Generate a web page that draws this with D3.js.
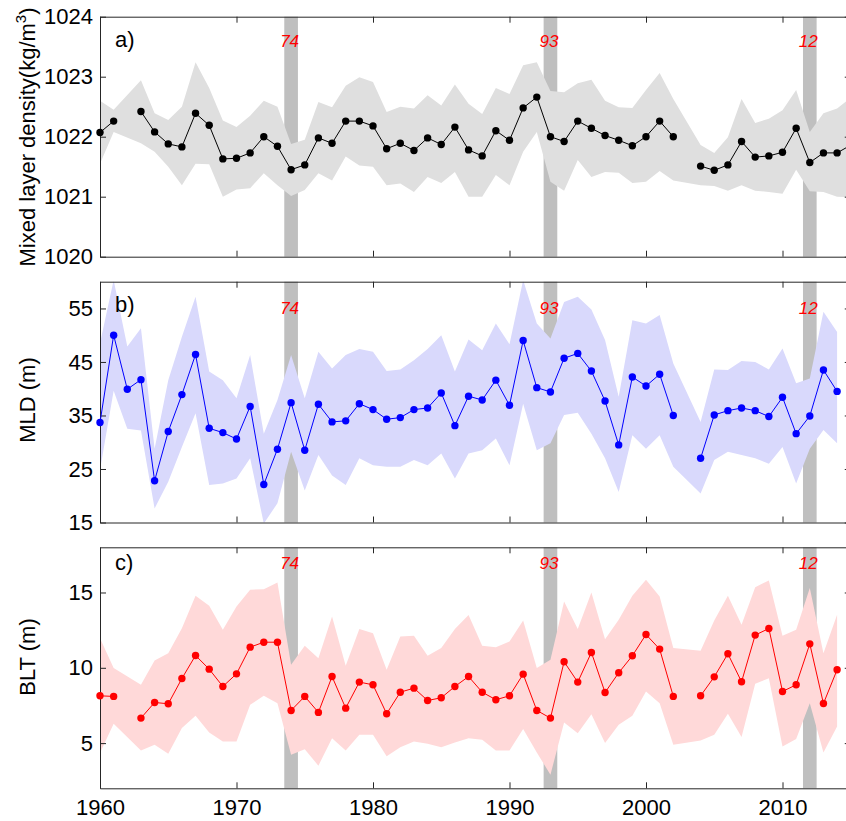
<!DOCTYPE html>
<html><head><meta charset="utf-8">
<script src="https://cdn.jsdelivr.net/npm/d3@7"></script>
<style>
body{margin:0;background:#fff}
svg{display:block}
text{font-family:"Liberation Sans",Arial,Helvetica,sans-serif}
</style>
</head><body><svg id="c" width="846" height="821"></svg>
<script>
// ---------- DATA (years 1960..2015, null = no data) ----------
const years = d3.range(1960, 2016);

const densityMean = [1022.07,1022.26,null,1022.42,1022.08,1021.88,1021.83,1022.39,1022.19,1021.63,
  1021.64,1021.73,1022.00,1021.84,1021.45,1021.53,1021.98,1021.89,1022.26,1022.26,
  1022.18,1021.80,1021.89,1021.77,1021.98,1021.87,1022.16,1021.78,1021.68,1022.10,
  1021.94,1022.48,1022.66,1022.00,1021.92,1022.26,1022.14,1022.02,1021.94,1021.85,
  1022.00,1022.26,1022.00,null,1021.51,1021.44,1021.53,1021.92,1021.66,1021.68,
  1021.74,1022.14,1021.57,1021.73,1021.73,1021.86];
const densityUpper = [1022.60,1022.45,null,1022.94,1022.39,1022.28,1022.50,1023.24,1022.81,1022.27,
  1022.16,1022.35,1022.60,1022.50,1021.88,1021.95,1022.58,1022.49,1022.85,1022.99,
  1022.91,1022.41,1022.50,1022.47,1022.69,1022.52,1022.87,1022.55,1022.38,1022.81,
  1022.71,1023.19,1023.24,1022.76,1022.74,1022.89,1022.95,1022.60,1022.49,1022.48,
  1022.78,1023.06,1022.63,null,1021.86,1021.73,1021.99,1022.63,1022.23,1022.30,
  1022.44,1022.78,1022.08,1022.39,1022.47,1022.65];
const densityLower = [1021.55,1022.08,null,1021.89,1021.75,1021.50,1021.19,1021.55,1021.54,1021.00,
  1021.12,1021.14,1021.39,1021.19,1021.01,1021.11,1021.39,1021.27,1021.67,1021.52,
  1021.50,1021.19,1021.22,1021.08,1021.33,1021.23,1021.41,1021.00,1021.00,1021.36,
  1021.19,1021.75,1022.08,1021.25,1021.10,1021.61,1021.33,1021.41,1021.40,1021.23,
  1021.25,1021.43,1021.27,null,1021.19,1021.18,1021.10,1021.19,1021.10,1021.08,
  1021.05,1021.45,1021.09,1021.08,1021.00,1020.99];

const mldMean = [33.7,50.0,39.9,41.7,22.8,32.0,38.9,46.4,32.6,31.8,
  30.6,36.7,22.1,28.7,37.4,28.5,37.1,33.8,34.0,37.2,
  36.1,34.3,34.6,36.1,36.4,39.2,33.1,38.6,37.9,41.6,
  36.9,49.0,40.2,39.4,45.7,46.6,43.3,37.7,29.5,42.2,
  40.5,42.7,35.0,null,27.0,35.1,35.9,36.4,35.9,34.8,
  38.4,31.6,34.9,43.5,39.5,null];
const mldUpper = [48.5,60.3,47.9,51.3,28.8,41.6,49.7,57.2,43.2,41.6,
  38.2,46.3,31.6,37.9,46.3,38.2,46.9,43.8,46.3,47.4,
  46.9,43.3,43.6,45.3,47.4,50.0,43.2,49.2,47.2,52.2,
  48.3,60.3,52.2,49.4,56.2,57.2,54.8,49.1,38.5,52.8,
  52.2,53.8,44.7,null,33.8,43.6,43.5,45.2,45.0,43.6,
  47.5,41.0,41.9,54.4,50.6,null];
const mldLower = [24.8,39.6,32.5,32.2,17.6,22.6,29.1,35.4,22.0,22.3,
  23.2,27.0,14.8,18.6,28.2,21.0,27.6,23.8,22.0,27.0,
  25.7,25.4,25.4,26.7,25.7,27.9,23.2,27.9,28.5,30.7,
  25.7,37.2,28.5,29.8,35.1,35.5,31.6,27.0,20.7,31.3,
  28.8,31.3,25.4,null,20.4,26.7,28.2,27.6,27.0,26.0,
  29.1,22.3,28.8,32.3,29.8,null];

const bltMean = [8.14,8.10,null,6.66,7.70,7.61,9.29,10.82,9.91,8.76,
  9.60,11.37,11.70,11.70,7.17,8.10,7.04,9.42,7.32,9.05,
  8.87,6.95,8.38,8.65,7.83,8.01,8.76,9.42,8.38,7.88,
  8.14,9.58,7.17,6.66,10.40,9.05,11.02,8.36,9.67,10.80,
  12.21,11.24,8.10,null,8.14,9.40,10.93,9.07,12.17,12.61,
  8.43,8.87,11.59,7.63,9.87,null];
const bltUpper = [11.97,9.98,null,8.87,10.49,10.97,12.63,14.78,14.12,12.52,
  14.07,15.18,15.22,15.66,10.20,11.46,10.64,13.40,10.13,12.57,
  12.30,9.87,12.08,12.12,10.80,11.31,12.57,13.50,11.46,11.37,
  11.75,13.14,9.98,10.53,14.40,12.57,15.00,11.90,13.19,14.78,
  15.84,14.73,11.31,null,11.13,13.14,14.78,12.85,15.35,15.80,
  12.12,12.52,15.29,10.97,13.52,null];
const bltLower = [4.34,6.28,null,4.51,4.89,4.29,6.00,6.81,5.71,5.11,
  5.11,7.54,8.14,7.65,4.23,4.60,3.50,5.33,4.51,5.55,
  5.55,4.12,4.73,5.11,4.96,4.73,5.04,5.33,5.22,4.51,
  4.51,5.93,4.38,2.90,6.37,5.66,6.92,5.00,6.22,6.81,
  8.43,7.65,4.89,null,5.18,5.55,6.95,5.40,8.94,9.31,
  4.78,5.27,7.65,4.38,6.11,null];

const xTicks = [1960,1970,1980,1990,2000,2010];
const eventYears = [1974,1993,2012];
const eventLabels = ["74","93","12"];
const densityTicks = [1020,1021,1022,1023,1024];
const mldTicks = [15,25,35,45,55];
const bltTicks = [5,10,15];

// ---------- DRAWING ----------
const svg = d3.select("#c");
const X0 = 100, X1 = 850.75;
const x = d3.scaleLinear().domain([1960,2015]).range([X0,X1]);
const axisColor = "#262626";

const panels = [
  {label:"a)", mean:densityMean, upper:densityUpper, lower:densityLower, domain:[1020,1024], ticks:densityTicks,
   top:16.7, bottom:256.7, band:"#dfdfdf", color:"#000000", title:"density", titleY:137, labelY:47, evY:46.5, xLabels:false},
  {label:"b)", mean:mldMean, upper:mldUpper, lower:mldLower, domain:[15,60], ticks:mldTicks,
   top:281.7, bottom:522.5, band:"#d9d9fc", color:"#0000ff", title:"MLD (m)", titleY:400, labelY:312, evY:314, xLabels:false},
  {label:"c)", mean:bltMean, upper:bltUpper, lower:bltLower, domain:[2,18], ticks:bltTicks,
   top:547.3, bottom:788.3, band:"#ffd9d9", color:"#ff0000", title:"BLT (m)", titleY:657, labelY:570, evY:569, xLabels:true}
];

panels.forEach((p,i)=>{
  const y = d3.scaleLinear().domain(p.domain).range([p.bottom,p.top]);
  const g = svg.append("g");
  const clipId = "clip"+i;
  svg.append("clipPath").attr("id",clipId).append("rect")
    .attr("x",X0).attr("y",p.top).attr("width",X1-X0).attr("height",p.bottom-p.top);

  // event bars
  g.selectAll("rect.ev").data(eventYears).join("rect").attr("class","ev")
    .attr("x",d=>x(d-0.5)).attr("width",d=>x(d+0.5)-x(d-0.5))
    .attr("y",p.top).attr("height",p.bottom-p.top).attr("fill","#bfbfbf");

  // band
  const bandData = years.map((yr,j)=>({yr, lo:p.lower[j], up:p.upper[j]}))
    .filter(d=>d.lo!=null && d.up!=null);
  g.append("path").datum(bandData).attr("clip-path",`url(#${clipId})`)
    .attr("fill",p.band)
    .attr("d", d3.area().x(d=>x(d.yr)).y0(d=>y(d.lo)).y1(d=>y(d.up)));

  // event labels
  g.selectAll("text.ev").data(eventYears).join("text").attr("class","ev")
    .attr("x",d=>x(d)-1.5).attr("y",p.evY).attr("text-anchor","middle")
    .attr("font-size",17).attr("font-style","italic").attr("fill","#ff0000")
    .text((d,k)=>eventLabels[k]);

  // axes
  const yl = g.append("g").attr("transform",`translate(${X0},0)`)
    .call(d3.axisLeft(y).tickValues(p.ticks).tickSize(-6).tickSizeOuter(0).tickPadding(7).tickFormat(d3.format("d")));
  const yr = g.append("g").attr("transform",`translate(${X1},0)`)
    .call(d3.axisRight(y).tickValues(p.ticks).tickSize(-6).tickSizeOuter(0).tickFormat(""));
  const xt = g.append("g").attr("transform",`translate(0,${p.top})`)
    .call(d3.axisTop(x).tickValues(xTicks).tickSize(-6).tickSizeOuter(0).tickFormat(""));
  const xb = g.append("g").attr("transform",`translate(0,${p.bottom})`)
    .call(d3.axisBottom(x).tickValues(xTicks).tickSize(-6).tickSizeOuter(0).tickPadding(11)
      .tickFormat(p.xLabels ? d3.format("d") : ""));
  [yl,yr,xt,xb].forEach(a=>{
    a.selectAll("path.domain").attr("stroke",axisColor).attr("stroke-width",1);
    a.selectAll(".tick line").attr("stroke",axisColor).attr("stroke-width",1);
    a.selectAll(".tick text").attr("fill","#000").attr("font-size",22)
      .attr("font-family",'"Liberation Sans",Arial,Helvetica,sans-serif');
  });
  if (p.xLabels) xb.selectAll(".tick text").attr("dy","0.71em");

  // panel label
  g.append("text").attr("x",115).attr("y",p.labelY).attr("font-size",22).text(p.label);

  // y title
  const t = g.append("text").attr("transform",`translate(35,${p.titleY}) rotate(-90)`)
    .attr("text-anchor","middle").attr("font-size",22);
  if (p.title === "density") {
    t.append("tspan").text("Mixed layer density(kg/m");
    t.append("tspan").attr("font-size",15).attr("dy",-9).text("3");
    t.append("tspan").attr("dy",9).text(")");
  } else t.text(p.title);

  // line + markers
  const lineData = years.map((yr,j)=>({yr, v:p.mean[j]}));
  g.append("path").datum(lineData).attr("fill","none").attr("stroke",p.color).attr("stroke-width",1)
    .attr("d", d3.line().defined(d=>d.v!=null).x(d=>x(d.yr)).y(d=>y(d.v)));
  g.selectAll("circle").data(lineData.filter(d=>d.v!=null)).join("circle")
    .attr("cx",d=>x(d.yr)).attr("cy",d=>y(d.v)).attr("r",3.7).attr("fill",p.color);
});
</script>
</body></html>
